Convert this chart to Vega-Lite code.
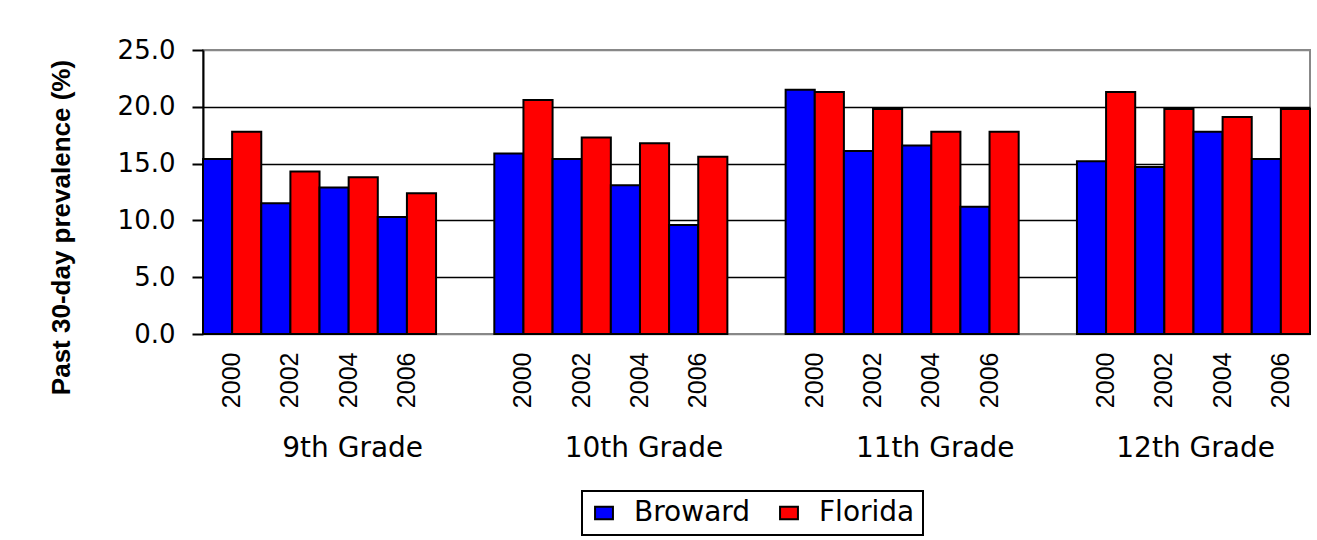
{
  "$schema": "https://vega.github.io/schema/vega-lite/v6.json",
  "width": 1107,
  "height": 284,
  "autosize": {"type": "none"},
  "padding": {"left": 203, "top": 50, "right": 7, "bottom": 206},
  "background": "white",
  "config": {
    "view": {"stroke": "#888888", "strokeWidth": 2},
    "font": "DejaVu Sans",
    "legend": {"strokeWidth": 2}
  },
  "data": {
    "values": [
      {"grade": "9th", "year": "2000", "slot": "9th 2000", "series": "Broward", "value": 15.4},
      {"grade": "9th", "year": "2000", "slot": "9th 2000", "series": "Florida", "value": 17.8},
      {"grade": "9th", "year": "2002", "slot": "9th 2002", "series": "Broward", "value": 11.5},
      {"grade": "9th", "year": "2002", "slot": "9th 2002", "series": "Florida", "value": 14.3},
      {"grade": "9th", "year": "2004", "slot": "9th 2004", "series": "Broward", "value": 12.9},
      {"grade": "9th", "year": "2004", "slot": "9th 2004", "series": "Florida", "value": 13.8},
      {"grade": "9th", "year": "2006", "slot": "9th 2006", "series": "Broward", "value": 10.3},
      {"grade": "9th", "year": "2006", "slot": "9th 2006", "series": "Florida", "value": 12.4},
      {"grade": "10th", "year": "2000", "slot": "10th 2000", "series": "Broward", "value": 15.9},
      {"grade": "10th", "year": "2000", "slot": "10th 2000", "series": "Florida", "value": 20.6},
      {"grade": "10th", "year": "2002", "slot": "10th 2002", "series": "Broward", "value": 15.4},
      {"grade": "10th", "year": "2002", "slot": "10th 2002", "series": "Florida", "value": 17.3},
      {"grade": "10th", "year": "2004", "slot": "10th 2004", "series": "Broward", "value": 13.1},
      {"grade": "10th", "year": "2004", "slot": "10th 2004", "series": "Florida", "value": 16.8},
      {"grade": "10th", "year": "2006", "slot": "10th 2006", "series": "Broward", "value": 9.6},
      {"grade": "10th", "year": "2006", "slot": "10th 2006", "series": "Florida", "value": 15.6},
      {"grade": "11th", "year": "2000", "slot": "11th 2000", "series": "Broward", "value": 21.5},
      {"grade": "11th", "year": "2000", "slot": "11th 2000", "series": "Florida", "value": 21.3},
      {"grade": "11th", "year": "2002", "slot": "11th 2002", "series": "Broward", "value": 16.1},
      {"grade": "11th", "year": "2002", "slot": "11th 2002", "series": "Florida", "value": 19.8},
      {"grade": "11th", "year": "2004", "slot": "11th 2004", "series": "Broward", "value": 16.6},
      {"grade": "11th", "year": "2004", "slot": "11th 2004", "series": "Florida", "value": 17.8},
      {"grade": "11th", "year": "2006", "slot": "11th 2006", "series": "Broward", "value": 11.2},
      {"grade": "11th", "year": "2006", "slot": "11th 2006", "series": "Florida", "value": 17.8},
      {"grade": "12th", "year": "2000", "slot": "12th 2000", "series": "Broward", "value": 15.2},
      {"grade": "12th", "year": "2000", "slot": "12th 2000", "series": "Florida", "value": 21.3},
      {"grade": "12th", "year": "2002", "slot": "12th 2002", "series": "Broward", "value": 14.7},
      {"grade": "12th", "year": "2002", "slot": "12th 2002", "series": "Florida", "value": 19.8},
      {"grade": "12th", "year": "2004", "slot": "12th 2004", "series": "Broward", "value": 17.8},
      {"grade": "12th", "year": "2004", "slot": "12th 2004", "series": "Florida", "value": 19.1},
      {"grade": "12th", "year": "2006", "slot": "12th 2006", "series": "Broward", "value": 15.4},
      {"grade": "12th", "year": "2006", "slot": "12th 2006", "series": "Florida", "value": 19.8}
    ]
  },
  "layer": [
    {
      "mark": {"type": "bar", "stroke": "black", "strokeWidth": 2, "opacity": 1},
      "encoding": {
        "x": {
          "field": "slot",
          "type": "nominal",
          "sort": null,
          "scale": {
            "domain": ["9th 2000", "9th 2002", "9th 2004", "9th 2006", "gap1", "10th 2000", "10th 2002", "10th 2004", "10th 2006", "gap2", "11th 2000", "11th 2002", "11th 2004", "11th 2006", "gap3", "12th 2000", "12th 2002", "12th 2004", "12th 2006"],
            "paddingInner": 0,
            "paddingOuter": 0
          },
          "axis": {
            "title": null,
            "orient": "bottom",
            "labelExpr": "slice(datum.value, 0, 3) == 'gap' ? '' : slice(datum.value, -4)",
            "labelAngle": -90,
            "labelAlign": "right",
            "labelBaseline": "middle",
            "labelFont": "Liberation Sans",
            "labelFontSize": 25,
            "labelColor": "black",
            "labelOverlap": false,
            "ticks": false,
            "tickSize": 0,
            "domain": false,
            "grid": false,
            "labelPadding": 18
          }
        },
        "xOffset": {
          "field": "series",
          "type": "nominal",
          "scale": {"domain": ["Broward", "Florida"], "paddingInner": 0, "paddingOuter": 0}
        },
        "y": {
          "field": "value",
          "type": "quantitative",
          "scale": {"domain": [0, 25], "nice": false},
          "axis": {
            "values": [0, 5, 10, 15, 20, 25],
            "format": ".1f",
            "title": "Past 30-day prevalence (%)",
            "titleFont": "Liberation Sans",
            "titleFontSize": 26,
            "titleFontWeight": "bold",
            "titleColor": "black",
            "titleAngle": -90,
            "titleX": -142,
            "titleY": 177,
            "titleAlign": "center",
            "titleBaseline": "middle",
            "labelFont": "DejaVu Sans",
            "labelFontSize": 26,
            "labelColor": "black",
            "labelPadding": 17,
            "tickSize": 11,
            "tickWidth": 2,
            "tickColor": "black",
            "domainColor": "black",
            "domainWidth": 2,
            "grid": true,
            "gridColor": {"condition": {"test": "datum.value == 25 || datum.value == 0", "value": "#888888"}, "value": "black"},
            "gridWidth": 1.5,
            "gridOpacity": 1
          }
        },
        "color": {
          "field": "series",
          "type": "nominal",
          "scale": {"domain": ["Broward", "Florida"], "range": ["#0000ff", "#ff0000"]},
          "legend": {
            "title": null,
            "orient": "none",
            "legendX": 379,
            "legendY": 441,
            "direction": "horizontal",
            "strokeColor": "black",
            "padding": 8,
            "labelFont": "DejaVu Sans",
            "labelFontSize": 28,
            "labelColor": "black",
            "labelOffset": 16,
            "columnPadding": 24,
            "symbolType": "M-1,-0.7H1V0.7H-1Z",
            "symbolSize": 320,
            "symbolStrokeColor": "black",
            "symbolStrokeWidth": 2,
            "symbolOpacity": 1
          }
        }
      }
    },
    {
      "mark": {"type": "text", "text": ""},
      "encoding": {
        "x": {
          "field": "slot",
          "type": "nominal",
          "sort": null,
          "axis": {
            "title": null,
            "orient": "bottom",
            "labelExpr": "slice(datum.value, -4) == '2004' ? replace(datum.value, ' 2004', ' Grade') : ''",
            "labelAngle": 0,
            "labelAlign": "center",
            "labelBaseline": "top",
            "labelFont": "DejaVu Sans",
            "labelFontSize": 28,
            "labelColor": "black",
            "labelOverlap": false,
            "labelOffset": {"condition": {"test": "datum.value == '12th 2004'", "value": -27}, "value": 4},
            "ticks": false,
            "tickSize": 0,
            "domain": false,
            "grid": false,
            "labelPadding": 100
          }
        }
      }
    }
  ],
  "resolve": {"axis": {"x": "independent"}}
}
